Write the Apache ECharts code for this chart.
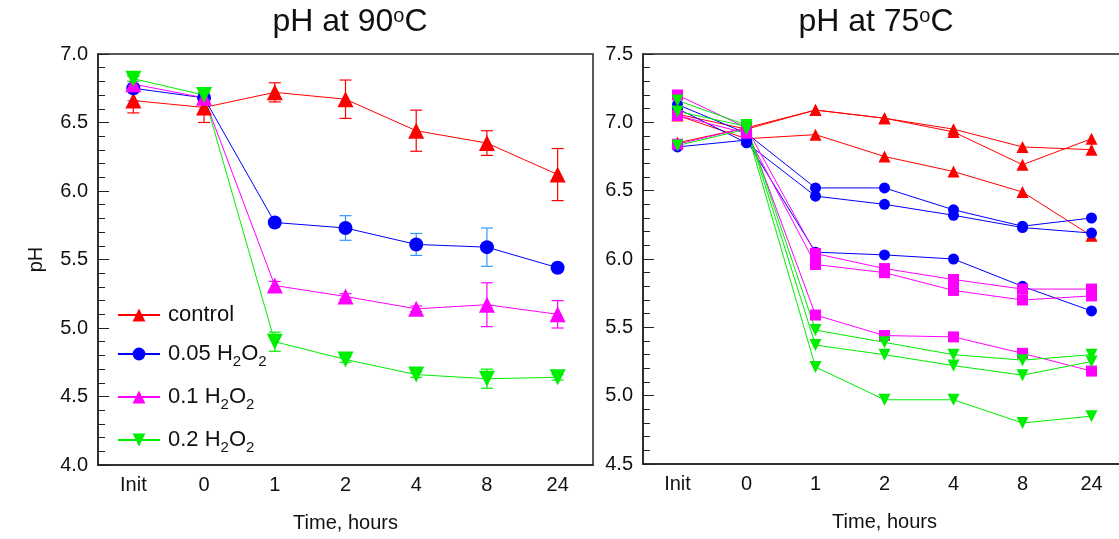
<!DOCTYPE html>
<html><head><meta charset="utf-8">
<script src="https://cdn.jsdelivr.net/npm/echarts@6/dist/echarts.min.js"></script>
<style>html,body{margin:0;padding:0;background:#fff}#c{width:1119px;height:539px}</style>
</head><body><div id="c"></div>
<script>
const categories = ['Init', '0', '1', '2', '4', '8', '24'];
const yTicks90 = [4.0, 4.5, 5.0, 5.5, 6.0, 6.5, 7.0];
const yTicks75 = [4.5, 5.0, 5.5, 6.0, 6.5, 7.0, 7.5];

// 90 C: means and +/- error
const control90 = [6.66, 6.61, 6.72, 6.67, 6.44, 6.35, 6.12];
const h05_90 = [6.75, 6.68, 5.77, 5.73, 5.61, 5.59, 5.44];
const h10_90 = [6.78, 6.68, 5.31, 5.23, 5.14, 5.17, 5.10];
const h20_90 = [6.82, 6.70, 4.90, 4.77, 4.66, 4.63, 4.64];
const control90Err = [0.09, 0.11, 0.07, 0.14, 0.15, 0.09, 0.19];
const h05_90Err = [0.09, 0.02, 0.02, 0.09, 0.08, 0.14, 0.02];
const h10_90Err = [0.02, 0.02, 0.03, 0.02, 0.02, 0.16, 0.10];
const h20_90Err = [0.02, 0.02, 0.07, 0.02, 0.02, 0.07, 0.02];

// 75 C: replicates
const control75a = [7.06, 6.95, 7.09, 7.03, 6.95, 6.82, 6.80];
const control75b = [6.85, 6.96, 7.09, 7.03, 6.93, 6.69, 6.88];
const control75c = [7.05, 6.88, 6.91, 6.75, 6.64, 6.49, 6.17];
const h05_75a = [7.13, 6.92, 6.52, 6.52, 6.36, 6.24, 6.30];
const h05_75b = [7.10, 6.85, 6.46, 6.40, 6.32, 6.23, 6.19];
const h05_75c = [6.82, 6.87, 6.05, 6.03, 6.00, 5.80, 5.62];
const h10_75a = [7.20, 6.96, 6.04, 5.93, 5.85, 5.78, 5.78];
const h10_75b = [7.05, 6.92, 5.96, 5.90, 5.77, 5.70, 5.73];
const h10_75c = [6.84, 6.96, 5.59, 5.44, 5.43, 5.31, 5.18];
const h20_75a = [7.16, 6.98, 5.48, 5.39, 5.30, 5.26, 5.30];
const h20_75b = [7.08, 6.97, 5.37, 5.30, 5.22, 5.15, 5.25];
const h20_75c = [6.83, 6.95, 5.21, 4.97, 4.97, 4.80, 4.85];

const RED = '#ff0000', BLUE = '#0000ff', MAG = '#ff00ff', GREEN = '#00ee00';
const FONT = '"Liberation Sans", Arial, sans-serif';

function errData(m, e) { return m.map((v, i) => [i, v - e[i], v + e[i]]); }
function errRender(params, api) {
  const x = api.value(0), lo = api.value(1), hi = api.value(2);
  const p1 = api.coord([x, hi]), p2 = api.coord([x, lo]);
  const w = 6;
  const style = { stroke: api.visual('color'), lineWidth: 1.2 };
  return { type: 'group', children: [
    { type: 'line', shape: { x1: p1[0], y1: p1[1], x2: p2[0], y2: p2[1] }, style },
    { type: 'line', shape: { x1: p1[0] - w, y1: p1[1], x2: p1[0] + w, y2: p1[1] }, style },
    { type: 'line', shape: { x1: p2[0] - w, y1: p2[1], x2: p2[0] + w, y2: p2[1] }, style }
  ] };
}
function errSeries(m, e, color, axis) {
  return { type: 'custom', xAxisIndex: axis, yAxisIndex: axis, renderItem: errRender,
    itemStyle: { color: color }, data: errData(m, e), encode: { x: 0, y: [1, 2] }, z: 1, silent: true };
}
function lineSeries(name, data, color, symbol, size, axis, rot) {
  return { type: 'line', name: name, data: data, xAxisIndex: axis, yAxisIndex: axis,
    symbol: symbol, symbolSize: size, symbolRotate: rot || 0, showAllSymbol: true,
    lineStyle: { color: color, width: 1 }, itemStyle: { color: color }, z: 3, animation: false };
}

function xAxis(gi) {
  return { type: 'category', gridIndex: gi, data: categories, boundaryGap: true,
    name: 'Time, hours', nameLocation: 'middle', nameGap: 48,
    nameTextStyle: { fontSize: 20, color: '#111', fontFamily: FONT },
    axisLine: { show: true, lineStyle: { color: '#222', width: 1.5 } },
    axisTick: { alignWithLabel: true, inside: true, length: 10, lineStyle: { color: '#222' } },
    axisLabel: { fontSize: 20, color: '#111', margin: 10, fontFamily: FONT },
    splitLine: { show: false } };
}
function yAxis(gi, ticks, name) {
  return { type: 'value', gridIndex: gi, min: ticks[0], max: ticks[ticks.length - 1], interval: 0.5,
    name: name, nameLocation: 'middle', nameGap: 52, nameRotate: 90,
    nameTextStyle: { fontSize: 20, color: '#111', fontFamily: FONT },
    axisLine: { show: true, lineStyle: { color: '#222', width: 1.5 } },
    axisTick: { show: true, inside: true, length: 11, lineStyle: { color: '#222' } },
    minorTick: { show: true, splitNumber: 5, length: 7, lineStyle: { color: '#222' } },
    axisLabel: { fontSize: 20, color: '#111', margin: 10, fontFamily: FONT, formatter: v => v.toFixed(1) },
    splitLine: { show: false } };
}

const legendNames = { 'control': 'control', '0.05': '0.05 H{sub|2}O{sub|2}', '0.1': '0.1 H{sub|2}O{sub|2}', '0.2': '0.2 H{sub|2}O{sub|2}' };
const titleRich = { sup: { fontSize: 20, verticalAlign: 'top', padding: [0, 0, 12, 0], fontFamily: FONT, color: '#111' } };

const option = {
  animation: false,
  backgroundColor: '#fff',
  title: [
    { text: 'pH at 90{sup|o}C', left: 345, top: 1, textAlign: 'center',
      textStyle: { fontSize: 32, fontWeight: 'normal', color: '#111', fontFamily: FONT, rich: titleRich } },
    { text: 'pH at 75{sup|o}C', left: 871, top: 1, textAlign: 'center',
      textStyle: { fontSize: 32, fontWeight: 'normal', color: '#111', fontFamily: FONT, rich: titleRich } }
  ],
  legend: {
    data: ['control', '0.05', '0.1', '0.2'],
    orient: 'vertical', left: 112, top: 299, itemGap: 17, itemWidth: 42, itemHeight: 16,
    formatter: n => legendNames[n],
    textStyle: { fontSize: 22, color: '#111', fontFamily: FONT, padding: [0, 0, 0, 3],
      rich: { sub: { fontSize: 15, verticalAlign: 'bottom', padding: [15, 0, 0, 0], fontFamily: FONT, color: '#111' } } }
  },
  grid: [
    { left: 98, top: 54, width: 495, height: 411, show: true, borderColor: '#222', borderWidth: 1.5, outerBoundsMode: 'none' },
    { left: 643, top: 54, width: 483, height: 410, show: true, borderColor: '#222', borderWidth: 1.5, outerBoundsMode: 'none' }
  ],
  xAxis: [xAxis(0), xAxis(1)],
  yAxis: [yAxis(0, yTicks90, 'pH'), yAxis(1, yTicks75, '')],
  series: [
    errSeries(control90, control90Err, RED, 0),
    errSeries(h05_90, h05_90Err, '#3399ff', 0),
    errSeries(h10_90, h10_90Err, MAG, 0),
    errSeries(h20_90, h20_90Err, GREEN, 0),
    lineSeries('control', control90, RED, 'triangle', 16, 0),
    lineSeries('0.05', h05_90, BLUE, 'circle', 14, 0),
    lineSeries('0.1', h10_90, MAG, 'triangle', 16, 0),
    lineSeries('0.2', h20_90, GREEN, 'triangle', 16, 0, 180),

    lineSeries('c75a', control75a, RED, 'triangle', 12, 1),
    lineSeries('c75b', control75b, RED, 'triangle', 12, 1),
    lineSeries('c75c', control75c, RED, 'triangle', 12, 1),
    lineSeries('b75a', h05_75a, BLUE, 'circle', 11, 1),
    lineSeries('b75b', h05_75b, BLUE, 'circle', 11, 1),
    lineSeries('b75c', h05_75c, BLUE, 'circle', 11, 1),
    lineSeries('m75a', h10_75a, MAG, 'rect', 11, 1),
    lineSeries('m75b', h10_75b, MAG, 'rect', 11, 1),
    lineSeries('m75c', h10_75c, MAG, 'rect', 11, 1),
    lineSeries('g75a', h20_75a, GREEN, 'triangle', 12, 1, 180),
    lineSeries('g75b', h20_75b, GREEN, 'triangle', 12, 1, 180),
    lineSeries('g75c', h20_75c, GREEN, 'triangle', 12, 1, 180)
  ]
};
const chart = echarts.init(document.getElementById('c'), null, { renderer: 'canvas' });
chart.setOption(option);
</script>
</body></html>
